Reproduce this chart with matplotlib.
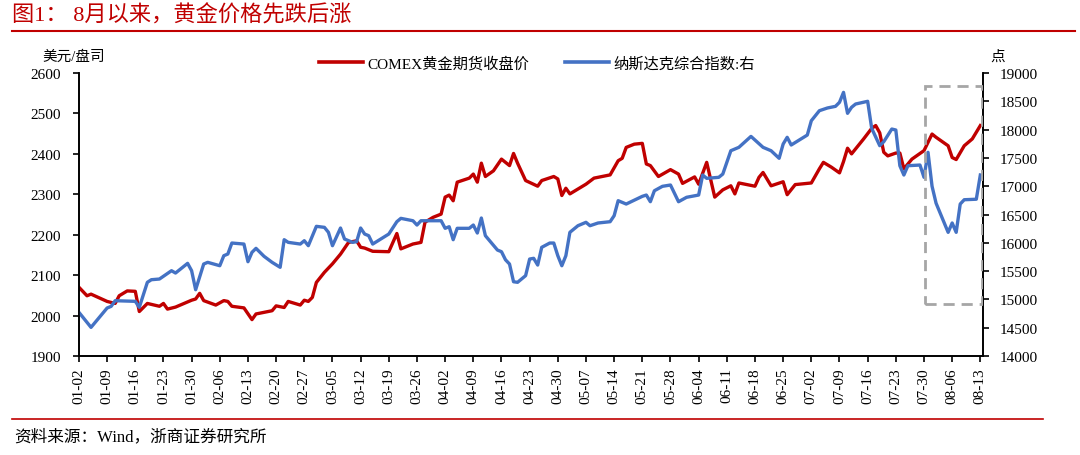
import numpy as np
import pandas as pd
import matplotlib
matplotlib.use("Agg")
import matplotlib.pyplot as plt
import matplotlib.dates as mdates
from matplotlib.patches import Rectangle
from matplotlib.lines import Line2D

plt.rcParams['font.family'] = ['Liberation Serif', 'Noto Sans CJK SC']

# COMEX 黄金期货收盘价 (左轴, 美元/盎司)
gold_dates = ["01-02", "01-04", "01-05", "01-09", "01-11", "01-12", "01-14", "01-16", "01-17", "01-19",
              "01-22", "01-23", "01-24", "01-26", "01-30", "01-31", "02-01", "02-02", "02-05", "02-07",
              "02-08", "02-09", "02-12", "02-14", "02-15", "02-19", "02-20", "02-22", "02-23", "02-26",
              "02-27", "02-28", "02-29", "03-01", "03-03", "03-05", "03-07", "03-09", "03-11", "03-12",
              "03-13", "03-15", "03-19", "03-21", "03-22", "03-25", "03-27", "03-28", "03-30", "04-01",
              "04-02", "04-03", "04-04", "04-05", "04-08", "04-09", "04-10", "04-11", "04-12", "04-14",
              "04-16", "04-18", "04-19", "04-20", "04-22", "04-25", "04-26", "04-29", "04-30", "05-01",
              "05-02", "05-03", "05-07", "05-09", "05-13", "05-15", "05-16", "05-17", "05-19", "05-21",
              "05-22", "05-23", "05-25", "05-28", "05-30", "05-31", "06-03", "06-04", "06-06", "06-08",
              "06-10", "06-12", "06-13", "06-14", "06-18", "06-19", "06-20", "06-22", "06-25", "06-26",
              "06-28", "07-02", "07-04", "07-05", "07-07", "07-09", "07-10", "07-11", "07-12", "07-15",
              "07-17", "07-18", "07-19", "07-20", "07-21", "07-23", "07-24", "07-25", "07-27", "07-28",
              "07-30", "08-01", "08-02", "08-05", "08-06", "08-07", "08-09", "08-11", "08-13"]
gold_vals = [2070, 2049, 2053, 2035, 2030, 2049, 2061, 2060, 2010, 2030,
             2023, 2030, 2016, 2021, 2038, 2041, 2055, 2037, 2026, 2037,
             2035, 2023, 2019, 1990, 2004, 2012, 2024, 2020, 2035, 2026,
             2038, 2035, 2045, 2082, 2107, 2128, 2152, 2181, 2185, 2169,
             2167, 2159, 2158, 2203, 2165, 2177, 2181, 2231, 2243, 2251,
             2293, 2298, 2284, 2330, 2340, 2350, 2330, 2377, 2344, 2358,
             2387, 2371, 2401, 2377, 2334, 2320, 2334, 2344, 2338, 2297,
             2315, 2301, 2325, 2340, 2348, 2383, 2389, 2416, 2424, 2426,
             2375, 2371, 2344, 2361, 2350, 2327, 2343, 2325, 2379, 2293,
             2311, 2321, 2301, 2328, 2320, 2342, 2354, 2321, 2331, 2299,
             2324, 2328, 2363, 2379, 2367, 2353, 2381, 2414, 2400, 2437,
             2463, 2470, 2452, 2404, 2395, 2402, 2402, 2363, 2387, 2394,
             2408, 2449, 2441, 2420, 2391, 2386, 2420, 2437, 2470]

# 纳斯达克综合指数 (右轴, 点)
ndx_dates = ["01-02", "01-05", "01-09", "01-10", "01-11", "01-16", "01-17", "01-19", "01-20", "01-22",
             "01-25", "01-26", "01-29", "01-30", "01-31", "02-02", "02-03", "02-06", "02-07", "02-08",
             "02-09", "02-12", "02-13", "02-14", "02-15", "02-17", "02-19", "02-21", "02-22", "02-23",
             "02-26", "02-27", "02-28", "03-01", "03-03", "03-04", "03-05", "03-07", "03-08", "03-10",
             "03-11", "03-12", "03-13", "03-14", "03-15", "03-19", "03-21", "03-22", "03-25", "03-26",
             "03-27", "04-01", "04-02", "04-03", "04-04", "04-05", "04-08", "04-09", "04-10", "04-11",
             "04-12", "04-15", "04-16", "04-17", "04-18", "04-19", "04-20", "04-22", "04-23", "04-24",
             "04-25", "04-26", "04-28", "04-29", "04-30", "05-01", "05-02", "05-03", "05-05", "05-07",
             "05-08", "05-10", "05-13", "05-14", "05-15", "05-17", "05-21", "05-22", "05-23", "05-24",
             "05-26", "05-28", "05-30", "06-01", "06-04", "06-05", "06-06", "06-09", "06-10", "06-12",
             "06-14", "06-17", "06-20", "06-22", "06-24", "06-25", "06-26", "06-27", "07-01", "07-02",
             "07-04", "07-06", "07-08", "07-09", "07-10", "07-11", "07-12", "07-13", "07-16", "07-17",
             "07-19", "07-20", "07-22", "07-23", "07-24", "07-25", "07-26", "07-29", "07-30", "07-31",
             "08-01", "08-02", "08-05", "08-06", "08-07", "08-08", "08-09", "08-12", "08-13"]
ndx_vals = [14771, 14506, 14848, 14877, 14977, 14966, 14860, 15302, 15348, 15360,
            15507, 15466, 15637, 15507, 15171, 15625, 15655, 15595, 15772, 15802,
            15996, 15978, 15666, 15832, 15902, 15761, 15655, 15567, 16055, 16008,
            15978, 16037, 15949, 16291, 16273, 16185, 15949, 16261, 16067, 16008,
            16020, 16261, 16155, 16126, 15978, 16155, 16373, 16432, 16390, 16314,
            16390, 16390, 16256, 16284, 16055, 16256, 16256, 16314, 16173, 16438,
            16126, 15872, 15843, 15700, 15625, 15312, 15302, 15420, 15713, 15726,
            15607, 15920, 15996, 15996, 15772, 15595, 15772, 16185, 16302, 16362,
            16302, 16350, 16373, 16479, 16744, 16685, 16821, 16844, 16726, 16920,
            16998, 17021, 16726, 16804, 16844, 17198, 17139, 17157, 17215, 17627,
            17687, 17880, 17687, 17627, 17493, 17745, 17864, 17728, 17904, 18157,
            18334, 18382, 18411, 18482, 18658, 18288, 18394, 18452, 18500, 18023,
            17716, 17786, 18010, 17993, 17362, 17198, 17362, 17374, 17157, 17599,
            17000, 16700, 16185, 16350, 16185, 16685, 16761, 16770, 17198]

year = "2024-"
gold_x = pd.to_datetime([year + d for d in gold_dates])
ndx_x = pd.to_datetime([year + d for d in ndx_dates])

red = "#C00000"
blue = "#4472C4"

fig = plt.figure(figsize=(10.8, 4.56), dpi=100)
ax = fig.add_axes([0.0731, 0.2171, 0.8371, 0.6206])
ax2 = ax.twinx()

ax.plot(gold_x, gold_vals, color=red, lw=2.4, solid_joinstyle='round')
ax2.plot(ndx_x, ndx_vals, color=blue, lw=2.4, solid_joinstyle='round')

x0 = pd.Timestamp("2024-01-02")
x1 = pd.Timestamp("2024-08-13 16:00")
ax.set_xlim(x0, x1)
ax.set_ylim(1900, 2600)
ax2.set_ylim(14000, 19000)
ax.set_yticks(np.arange(1900, 2601, 100))
ax2.set_yticks(np.arange(14000, 19001, 500))

ticks = pd.date_range("2024-01-02", "2024-08-13", freq="7D")
ax.set_xticks(ticks)
ax.set_xticklabels([t.strftime("%m-%d") for t in ticks], rotation=90)

for a in (ax, ax2):
    a.spines['top'].set_visible(False)
    for s in ('left', 'right', 'bottom'):
        a.spines[s].set_linewidth(1.2)
        a.spines[s].set_color('black')
ax.tick_params(axis='y', direction='out', length=4, width=1.2, labelsize=11, pad=9)
ax2.tick_params(axis='y', direction='out', length=4, width=1.2, labelsize=11, pad=8)
ax.tick_params(axis='x', direction='out', length=4, width=1.2, labelsize=11, pad=4)

# dashed box around the recent period
bx0 = mdates.date2num(pd.Timestamp("2024-07-30 07:00"))
bx1 = mdates.date2num(pd.Timestamp("2024-08-13 12:00"))
ax2.add_patch(Rectangle((bx0, 14920), bx1 - bx0, 18770 - 14920, fill=False,
                        edgecolor="#A6A6A6", lw=2, ls=(0, (4, 2.5)), zorder=5))

# unit labels
fig.text(42 / 1080, 1 - 57 / 456, "美元/盘司", fontsize=10.5, va='center', ha='left')
fig.text(990 / 1080, 1 - 57 / 456, "点", fontsize=10.5, va='center', ha='left')

handles = [Line2D([], [], color=red, lw=2.6), Line2D([], [], color=blue, lw=2.6)]
fig.legend(handles, ["COMEX黄金期货收盘价", "纳斯达克综合指数:右"], loc='center',
           bbox_to_anchor=(537 / 1080, 1 - 64 / 456), ncol=2, frameon=False, fontsize=11,
           handlelength=2.9, handletextpad=0.3, columnspacing=2.3)

# title and source
fig.text(12 / 1080, 1 - 16 / 456, "图1： 8月以来，黄金价格先跌后涨", color=red,
         fontsize=16, va='center', ha='left')
fig.add_artist(Line2D([12 / 1080, 1075 / 1080], [1 - 32 / 456, 1 - 32 / 456],
                      color=red, lw=1.5))
fig.add_artist(Line2D([12 / 1080, 1043 / 1080], [1 - 420 / 456, 1 - 420 / 456],
                      color=red, lw=1.2))
fig.text(14 / 1080, 1 - 437 / 456, "资料来源：Wind，浙商证券研究所", fontsize=12,
         va='center', ha='left')

fig.savefig("out.png", dpi=100)
